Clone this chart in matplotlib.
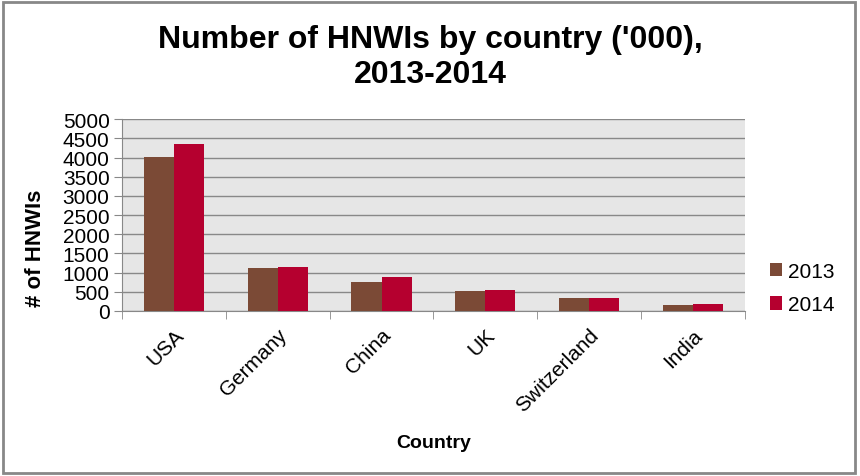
import numpy as np
import matplotlib
matplotlib.use('Agg')
import matplotlib.pyplot as plt
import matplotlib.patches as mpatches

plt.rcParams['font.family'] = ['Liberation Sans', 'DejaVu Sans']

countries = ['USA', 'Germany', 'China', 'UK', 'Switzerland', 'India']
hnwi_2013 = [4010, 1130, 760, 527, 331, 156]
hnwi_2014 = [4350, 1150, 890, 541, 342, 185]
years = ['2013', '2014']
colors = ['#7b4a36', '#b5002f']

fig = plt.figure(figsize=(8.6, 4.77), dpi=100)
ax = fig.add_axes([0.142, 0.346, 0.724, 0.402])

x = np.arange(len(countries))
w = 0.29
ax.bar(x - w / 2, hnwi_2013, w, color=colors[0], label=years[0], zorder=3)
ax.bar(x + w / 2, hnwi_2014, w, color=colors[1], label=years[1], zorder=3)

ax.set_facecolor('#e6e6e6')
ax.set_xlim(-0.5, len(countries) - 0.5)
ax.set_ylim(0, 5000)
ax.set_yticks(np.arange(0, 5001, 500))
ax.yaxis.grid(True, color='#888888', linewidth=1, zorder=0)
ax.tick_params(axis='y', labelsize=15, length=6, color='#888888', pad=3)

ax.set_xticks(x)
ax.set_xticklabels(countries, rotation=45, ha='right', rotation_mode='anchor', fontsize=15)
ax.tick_params(axis='x', length=0, pad=10)
ax.set_xticks(np.arange(-0.5, len(countries)), minor=True)
ax.tick_params(axis='x', which='minor', length=6, color='#888888')

for s in ['top', 'right']:
    ax.spines[s].set_visible(False)
ax.spines['left'].set_color('#888888')
ax.spines['bottom'].set_color('#888888')

ax.set_xlabel('Country', fontsize=14, fontweight='bold', labelpad=14)
ax.set_ylabel('# of HNWIs', fontsize=16, fontweight='bold')
ax.yaxis.set_label_coords(-0.122, 0.33)

fig.text(0.5, 0.88, "Number of HNWIs by country ('000),\n2013-2014", ha='center',
         va='center', fontsize=23, fontweight='bold', linespacing=1.2)

ax.legend(loc='center left', bbox_to_anchor=(1.01, 0.12), frameon=False, fontsize=15,
          handlelength=0.6, handleheight=0.6, handletextpad=0.3, labelspacing=0.7)

fig.patches.append(mpatches.Rectangle((0.004, 0.006), 0.99, 0.988, transform=fig.transFigure,
                                      fill=False, edgecolor='#888888', linewidth=2))

fig.savefig('out.png', dpi=100)
